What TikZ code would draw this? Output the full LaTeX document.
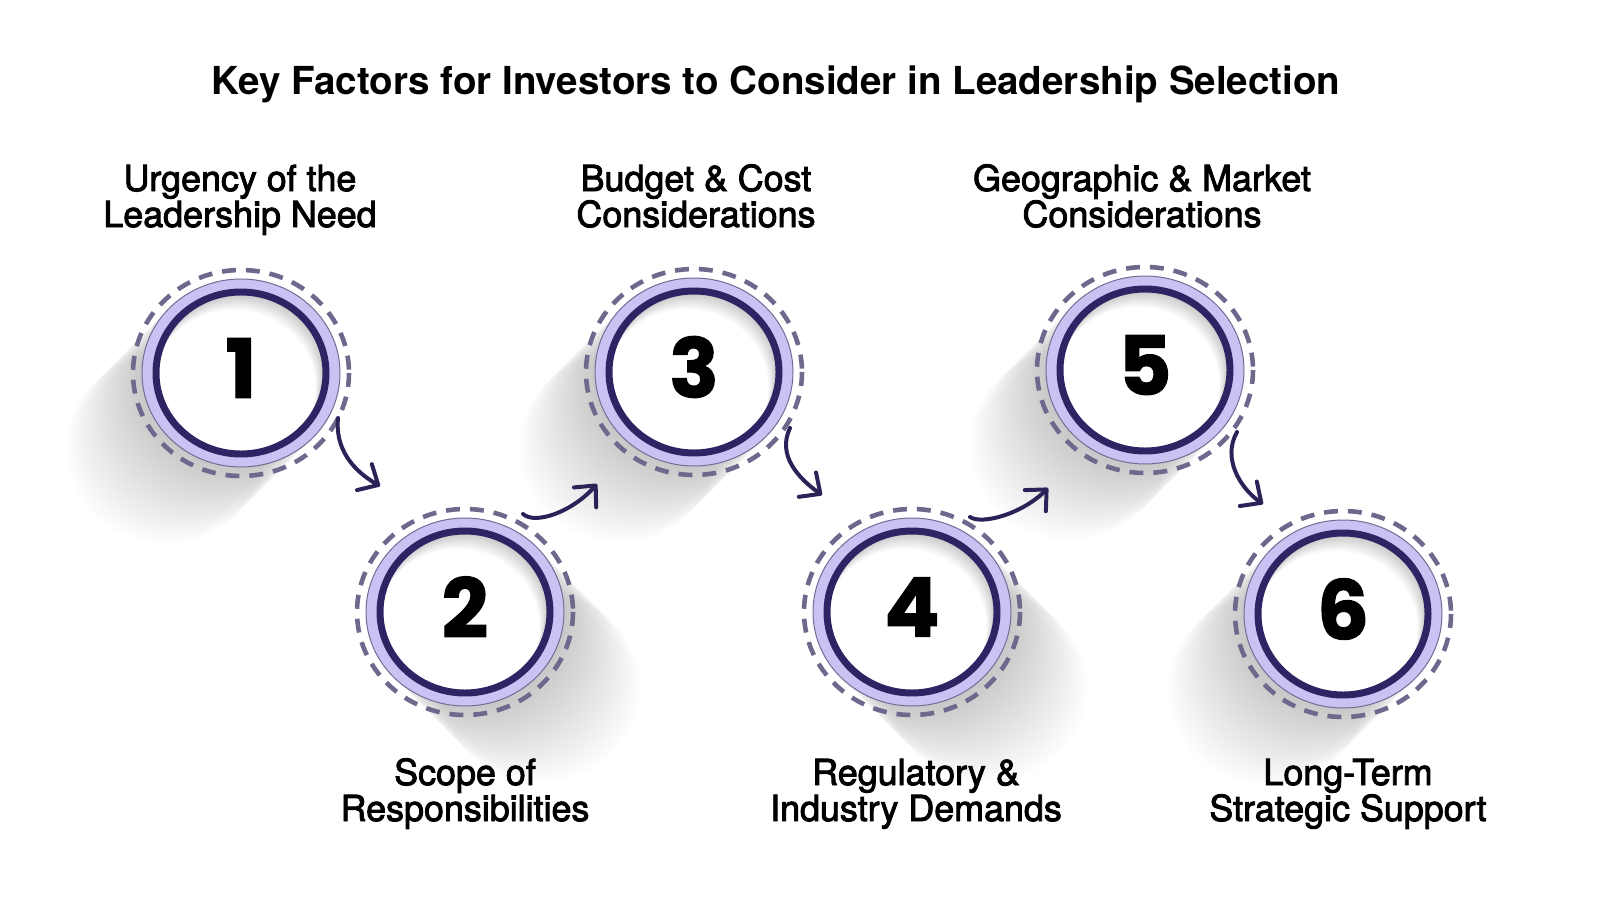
\documentclass[tikz,border=0pt]{standalone}
\usepackage{fontspec}
\setmainfont{TeX Gyre Heros}
\newfontfamily\labelfont{TeX Gyre Heros}[FakeBold=2.5]
\newfontfamily\numfont{Poppins}[FakeBold=1.5]
\usetikzlibrary{arrows.meta,calc}
\definecolor{ringdark}{HTML}{2D2464}
\definecolor{lav}{HTML}{CAC2F2}
\definecolor{lavline}{HTML}{716C93}
\definecolor{dashc}{HTML}{6D698D}
\definecolor{arrowc}{HTML}{2B2358}
\tikzset{
  titlestyle/.style={anchor=base, inner sep=0pt, font=\fontsize{38.7}{40}\selectfont\bfseries},
  labelstyle/.style={anchor=base, inner sep=0pt, font=\labelfont\fontsize{36}{37}\selectfont},
  numstyle/.style={anchor=center, inner sep=0pt, font=\numfont\bfseries\fontsize{82}{82}\selectfont},
  dashring/.style={draw=dashc, line width=4.6, dash pattern=on 14 off 10},
  lavring/.style={fill=lav, draw=lavline, line width=1},
  flowarrow/.style={draw=arrowc, line width=4, line cap=round,
    -{Straight Barb[length=16, width=30, line cap=round, round]}},
}
\begin{document}
\begin{tikzpicture}[x=1bp, y=-1bp]
\useasboundingbox (0,0) rectangle (1600,900);
\fill[white] (0,0) rectangle (1600,900);

% centres
\foreach \n/\cx/\cy in {1/241/373, 2/465/612, 3/694/372, 4/912/612, 5/1145/370, 6/1343/614}
  {\coordinate (c\n) at (\cx,\cy);}

% long shadows
\foreach \n/\dx in {1/-1, 2/1, 3/-1, 4/1, 5/-1, 6/-1} {
  \foreach \k in {4,8,...,108} {
    \fill[black, opacity=0.008] ($(c\n)+({\dx*\k*0.707},{\k*0.707})$) ellipse [x radius=99, y radius=94];
  }
}

% circles
\foreach \n in {1,...,6} {
  \draw[dashring] (c\n) ellipse [x radius=108, y radius=103];
  \path[lavring] (c\n) ellipse [x radius=99, y radius=94];
  \fill[white] (c\n) ellipse [x radius=85, y radius=81];
  \begin{scope}
    \clip (c\n) ellipse [x radius=82, y radius=78];
    \foreach \s in {1.5,3,...,15} {
      \fill[black, opacity=0.02, even odd rule] (c\n) ellipse [x radius=95, y radius=91]
        ($(c\n)+({-0.5*\s},{\s})$) ellipse [x radius=82, y radius=78];
    }
  \end{scope}
  \draw[draw=ringdark, line width=7] (c\n) ellipse [x radius=85, y radius=81];
  \node[numstyle] (n\n) at ($(c\n)+(0,-5)$) {\n};
}

% arrows
\coordinate (a1s) at (338,418); \coordinate (a1e) at (380,486);
\coordinate (a2s) at (523,514); \coordinate (a2e) at (597,484);
\coordinate (a3s) at (790,428); \coordinate (a3e) at (822,495);
\coordinate (a4s) at (970,517); \coordinate (a4e) at (1048,488);
\coordinate (a5s) at (1237,432); \coordinate (a5e) at (1263,504);
\draw[flowarrow] (a1s) .. controls (335,448) and (352,470) .. (a1e);
\draw[flowarrow] (a2s) .. controls (535,525) and (572,512) .. (a2e);
\draw[flowarrow] (a3s) .. controls (777,455) and (798,478) .. (a3e);
\draw[flowarrow] (a4s) .. controls (982,525) and (1022,514) .. (a4e);
\draw[flowarrow] (a5s) .. controls (1222,458) and (1240,488) .. (a5e);

% title
\node[titlestyle] (title) at (776,94) {Key Factors for Investors to Consider in Leadership Selection};

% labels
\node[labelstyle] (l1a) at (240,191) {Urgency of the};
\node[labelstyle] (l1b) at (240,227) {Leadership Need};
\node[labelstyle] (l3a) at (696,191) {Budget \& Cost};
\node[labelstyle] (l3b) at (696,227) {Considerations};
\node[labelstyle] (l5a) at (1142,191) {Geographic \& Market};
\node[labelstyle] (l5b) at (1142,227) {Considerations};
\node[labelstyle] (l2a) at (465,785) {Scope of};
\node[labelstyle] (l2b) at (465,821) {Responsibilities};
\node[labelstyle] (l4a) at (916,785) {Regulatory \&};
\node[labelstyle] (l4b) at (916,821) {Industry Demands};
\node[labelstyle] (l6a) at (1348,785) {Long-Term};
\node[labelstyle] (l6b) at (1348,821) {Strategic Support};
\end{tikzpicture}
\end{document}
